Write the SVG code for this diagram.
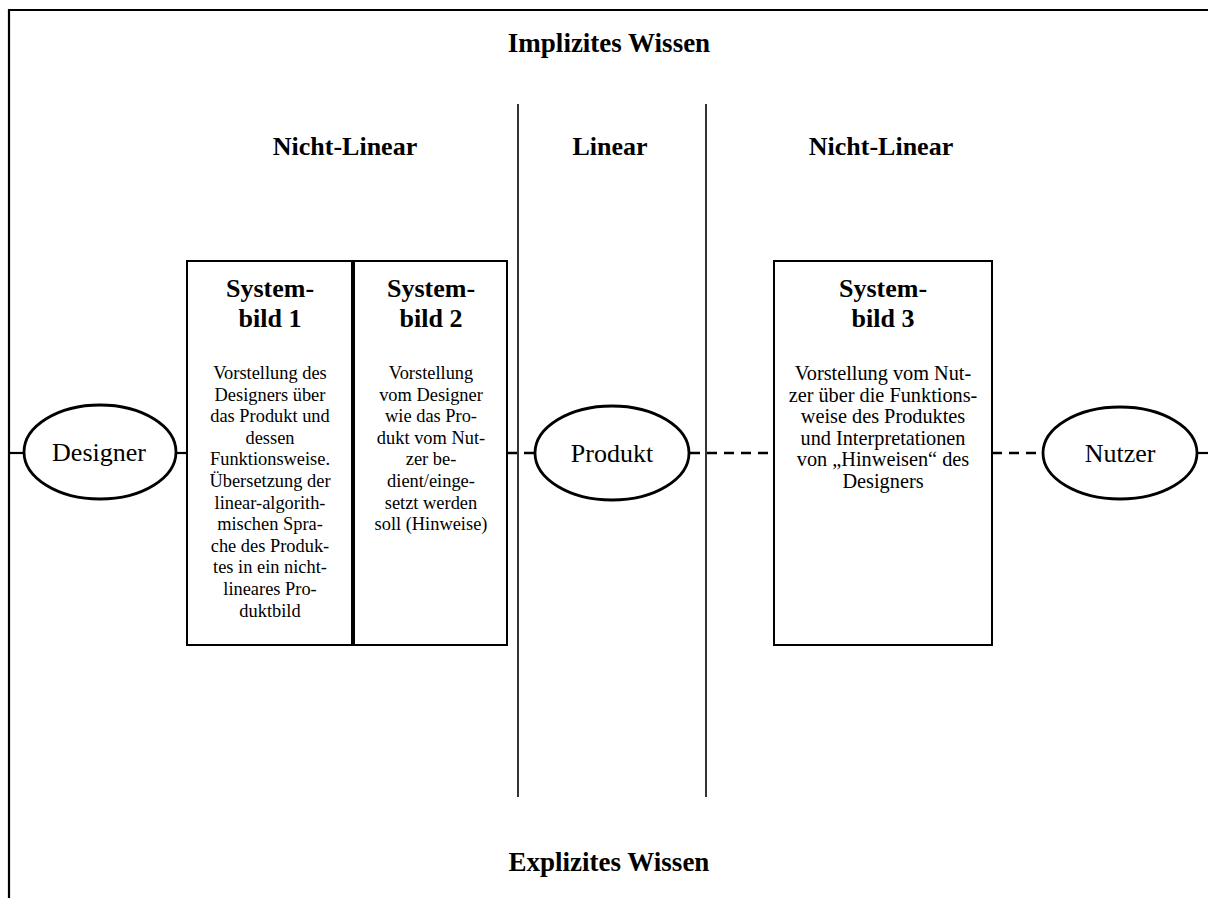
<svg xmlns="http://www.w3.org/2000/svg" width="1208" height="898" viewBox="0 0 1208 898">
<style>
text{font-family:"Liberation Serif","Times New Roman",serif;fill:#000;text-anchor:middle}
.h{font-weight:bold;font-size:27px}
.sec{font-weight:bold;font-size:26px}
.t{font-weight:bold;font-size:26px}
.b{font-size:18.4px}
.b3{font-size:20.3px}
.n{font-size:26px}
.box{fill:#fff;stroke:#000;stroke-width:2}
.ell{fill:#fff;stroke:#000;stroke-width:2.8}
.sep{stroke:#000;stroke-width:1.6;fill:none}
.solid{stroke:#000;stroke-width:2.2;fill:none}
.dash{stroke:#000;stroke-width:2.5;fill:none;stroke-dasharray:10 7}
</style>
<rect x="0" y="0" width="1208" height="898" fill="#fff"/>
<path class="solid" d="M9,898 V10 H1208"/>
<text class="h" x="609" y="52">Implizites Wissen</text>
<text class="h" x="609" y="871">Explizites Wissen</text>
<g id="separators">
<line class="sep" x1="518" y1="104" x2="518" y2="797"/>
<line class="sep" x1="706" y1="104" x2="706" y2="797"/>
</g>
<text class="sec" x="345" y="155">Nicht-Linear</text>
<text class="sec" x="610" y="155">Linear</text>
<text class="sec" x="881" y="155">Nicht-Linear</text>
<g id="connectors">
<line class="solid" x1="9" y1="453" x2="24" y2="453"/>
<line class="solid" x1="176" y1="453" x2="187" y2="453"/>
<line class="dash" x1="507" y1="453" x2="535" y2="453"/>
<line class="dash" x1="690" y1="453" x2="774" y2="453"/>
<line class="dash" x1="992" y1="453" x2="1043" y2="453"/>
<line class="solid" x1="1197" y1="453" x2="1208" y2="453"/>
</g>
<g id="designer">
<ellipse class="ell" cx="100" cy="452" rx="76" ry="47"/>
<text class="n" x="99" y="461">Designer</text>
</g>
<g id="produkt">
<ellipse class="ell" cx="612" cy="453" rx="77" ry="47"/>
<text class="n" x="612" y="462">Produkt</text>
</g>
<g id="nutzer">
<ellipse class="ell" cx="1120" cy="453" rx="77" ry="46"/>
<text class="n" x="1120" y="462">Nutzer</text>
</g>
<g id="systembild1">
<rect class="box" x="187" y="261" width="165" height="384"/>
<text class="t" x="270" y="297">System-</text>
<text class="t" x="270" y="327">bild 1</text>
<text class="b" x="270" y="379">Vorstellung des</text>
<text class="b" x="270" y="400.6">Designers über</text>
<text class="b" x="270" y="422.2">das Produkt und</text>
<text class="b" x="270" y="443.8">dessen</text>
<text class="b" x="270" y="465.4">Funktionsweise.</text>
<text class="b" x="270" y="487">Übersetzung der</text>
<text class="b" x="270" y="508.6">linear-algorith-</text>
<text class="b" x="270" y="530.2">mischen Spra-</text>
<text class="b" x="270" y="551.8">che des Produk-</text>
<text class="b" x="270" y="573.4">tes in ein nicht-</text>
<text class="b" x="270" y="595">lineares Pro-</text>
<text class="b" x="270" y="616.6">duktbild</text>
</g>
<g id="systembild2">
<rect class="box" x="354" y="261" width="153" height="384"/>
<text class="t" x="431" y="297">System-</text>
<text class="t" x="431" y="327">bild 2</text>
<text class="b" x="431" y="379">Vorstellung</text>
<text class="b" x="431" y="400.6">vom Designer</text>
<text class="b" x="431" y="422.2">wie das Pro-</text>
<text class="b" x="431" y="443.8">dukt vom Nut-</text>
<text class="b" x="431" y="465.4">zer be-</text>
<text class="b" x="431" y="487">dient/einge-</text>
<text class="b" x="431" y="508.6">setzt werden</text>
<text class="b" x="431" y="530.2">soll (Hinweise)</text>
</g>
<g id="systembild3">
<rect class="box" x="774" y="261" width="218" height="384"/>
<text class="t" x="883" y="297">System-</text>
<text class="t" x="883" y="327">bild 3</text>
<text class="b3" x="883" y="380">Vorstellung vom Nut-</text>
<text class="b3" x="883" y="401.6">zer über die Funktions-</text>
<text class="b3" x="883" y="423.2">weise des Produktes</text>
<text class="b3" x="883" y="444.8">und Interpretationen</text>
<text class="b3" x="883" y="466.4">von „Hinweisen“ des</text>
<text class="b3" x="883" y="488">Designers</text>
</g>
</svg>
